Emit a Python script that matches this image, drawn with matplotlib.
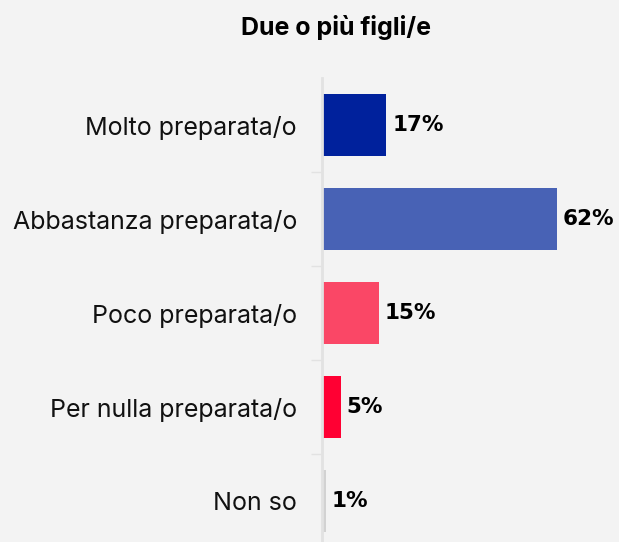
import numpy as np
import matplotlib.pyplot as plt

categories = ['Molto preparata/o', 'Abbastanza preparata/o', 'Poco preparata/o',
              'Per nulla preparata/o', 'Non so']
values = [17, 62, 15, 5, 1]
colors = ['#00219C', '#4862B5', '#FA4766', '#FF0033', '#D2D2D2']
title = 'Due o più figli/e'

bg = '#F3F3F3'
W, H = 619, 542
fig = plt.figure(figsize=(W / 100, H / 100), dpi=100, facecolor=bg)

# axes placed in pixel coordinates
x0, x1 = 322, 619
y_top, y_bot = 78, 542
ax = fig.add_axes([x0 / W, 1 - y_bot / H, (x1 - x0) / W, (y_bot - y_top) / H])
ax.set_facecolor(bg)

px_per_unit = 235 / 62
ypos = np.arange(len(categories))
ax.barh(ypos, values, height=0.67, color=colors)
ax.set_xlim(0, (x1 - x0) / px_per_unit)
ax.set_ylim(-0.5 + (y_bot - y_top) / 94, -0.5)

for y, v in zip(ypos, values):
    ax.text(v + 1.5, y, f'{v}%', va='center', ha='left', fontsize=15.5,
            fontweight='bold', family='DejaVu Sans', color='black')

ax.set_yticks(ypos)
ax.set_yticklabels(categories, fontsize=18, family='Inter', color='#111111')
for lbl in ax.get_yticklabels():
    lbl.set_fontstretch('condensed')
ax.set_yticks(np.arange(len(categories) - 1) + 0.5, minor=True)
ax.tick_params(axis='y', which='major', length=0, pad=18)
ax.tick_params(axis='y', which='minor', length=8, color='#E2E2E2', width=1)
ax.set_xticks([])
for s in ['top', 'right', 'bottom']:
    ax.spines[s].set_visible(False)
ax.spines['left'].set_color('#E2E2E2')
ax.spines['left'].set_linewidth(2)

fig.text(336 / W, 1 - 28 / H, title, ha='center', va='center', fontsize=18,
         fontweight='bold', family='Inter', color='black')

fig.savefig('out.png', dpi=100, facecolor=bg)
